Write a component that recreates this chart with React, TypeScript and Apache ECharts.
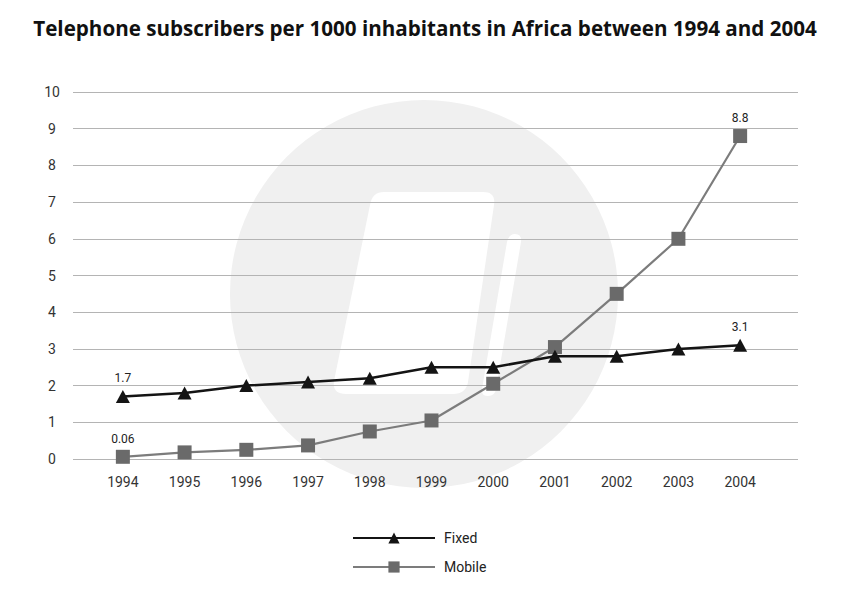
import React, { useEffect, useRef } from "react";
import * as echarts from "echarts";

const years = ["1994", "1995", "1996", "1997", "1998", "1999", "2000", "2001", "2002", "2003", "2004"];
const fixedValues = [1.7, 1.8, 2.0, 2.1, 2.2, 2.5, 2.5, 2.8, 2.8, 3.0, 3.1];
const mobileValues = [0.06, 0.18, 0.25, 0.37, 0.75, 1.05, 2.05, 3.05, 4.5, 6.0, 8.8];
const yTicks = [0, 1, 2, 3, 4, 5, 6, 7, 8, 9, 10];

const TITLE = "Telephone subscribers per 1000 inhabitants in Africa between 1994 and 2004";
const FONT = "Roboto, 'Noto Sans', sans-serif";
const TITLE_FONT = "'Open Sans', Roboto, sans-serif";

echarts.graphic.registerShape(
  "wmBody",
  echarts.graphic.extendPath(
    "M 384 192 L 483 192 Q 496 192 494 205 L 468 382 Q 466 394 453 394 L 346 394 Q 332 394 334 381 L 370 205 Q 372 192 384 192 Z",
    {}
  )
);
echarts.graphic.registerShape(
  "wmStripe",
  echarts.graphic.extendPath(
    "M 507 242 Q 509 234 515 234 Q 522 234 521 242 L 496 389 Q 495 396 488 396 Q 481 396 482 389 Z",
    {}
  )
);

function withEndLabels(values: number[]) {
  return values.map((v, i) => ({
    value: v,
    label: { show: i === 0 || i === values.length - 1 },
  }));
}

export default function App() {
  const ref = useRef<HTMLDivElement>(null);
  useEffect(() => {
    if (!ref.current) return;
    const chart = echarts.init(ref.current, undefined, { renderer: "svg" });
    const yMin = yTicks[0];
    const yMax = yTicks[yTicks.length - 1];
    chart.setOption({
      animation: false,
      backgroundColor: "#ffffff",
      textStyle: { fontFamily: FONT },
      title: {
        text: TITLE,
        left: "center",
        top: 12,
        textStyle: { fontSize: 20.6, fontWeight: "bold", color: "#111", fontFamily: TITLE_FONT },
      },
      graphic: {
        elements: [
          { type: "circle", z: -10, silent: true, shape: { cx: 424, cy: 294, r: 194 }, style: { fill: "#f0f0f0" } },
          { type: "wmBody", z: -9, silent: true, x: 0, y: 0, style: { fill: "#ffffff" } },
          { type: "wmStripe", z: -9, silent: true, x: 0, y: 0, style: { fill: "#ffffff" } },
        ],
      },
      legend: {
        orient: "vertical",
        left: 352,
        top: 531,
        padding: 0,
        itemWidth: 82,
        itemHeight: 14,
        itemGap: 15,
        textStyle: { fontSize: 14, color: "#222", padding: [0, 0, 0, 4], fontFamily: FONT },
        data: ["Fixed", "Mobile"],
      },
      grid: [
        { left: 73, right: 52, top: 92, bottom: 136 },
        { left: 92, right: 79, top: 92, bottom: 136 },
      ],
      xAxis: [
        { type: "category", gridIndex: 0, data: years, show: false },
        {
          type: "category",
          gridIndex: 1,
          data: years,
          boundaryGap: true,
          axisLine: { show: false },
          axisTick: { show: false },
          axisLabel: { fontSize: 14, color: "#333", margin: 16, fontFamily: FONT },
        },
      ],
      yAxis: [
        {
          type: "value",
          gridIndex: 0,
          min: yMin,
          max: yMax,
          interval: 1,
          axisLine: { show: false },
          axisTick: { show: false },
          axisLabel: { fontSize: 14, color: "#333", margin: 21, align: "center", fontFamily: FONT },
          splitLine: { show: true, lineStyle: { color: "#b4b4b4", width: 1 } },
        },
        { type: "value", gridIndex: 1, min: yMin, max: yMax, interval: 1, show: false, splitLine: { show: false } },
      ],
      series: [
        {
          name: "Fixed",
          type: "line",
          xAxisIndex: 1,
          yAxisIndex: 1,
          data: withEndLabels(fixedValues),
          symbol: "triangle",
          symbolSize: [14, 13],
          lineStyle: { color: "#141414", width: 2.5 },
          itemStyle: { color: "#141414" },
          label: { position: "top", distance: 6, fontSize: 12, color: "#222", fontFamily: FONT },
          z: 3,
        },
        {
          name: "Mobile",
          type: "line",
          xAxisIndex: 1,
          yAxisIndex: 1,
          data: withEndLabels(mobileValues),
          symbol: "rect",
          symbolSize: 14,
          lineStyle: { color: "#7c7c7c", width: 2.2 },
          itemStyle: { color: "#6a6a6a" },
          label: { position: "top", distance: 5, fontSize: 12, color: "#222", fontFamily: FONT },
          z: 2,
        },
      ],
    });
    return () => chart.dispose();
  }, []);
  return (
    <div
      ref={ref}
      style={{ position: "fixed", left: 0, top: 0, width: 850, height: 595, background: "#fff" }}
    />
  );
}
